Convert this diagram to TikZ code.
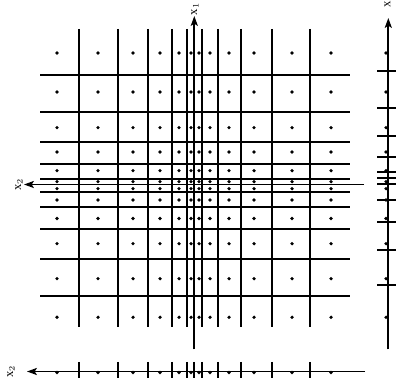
\documentclass[tikz,border=0pt]{standalone}
\usepackage{fontspec}
\setmainfont{Liberation Serif}
\usetikzlibrary{arrows.meta}
\begin{document}
\begin{tikzpicture}[x=0.25mm, y=-0.25mm,
        cut/.style={line width=1.2pt},
        axis/.style={line width=1.2pt, -{Stealth[length=7pt,width=5pt,inset=1.5pt]}},
        lab/.style={rotate=90, inner sep=0pt, font=\fontsize{9}{10}\selectfont}]
    \useasboundingbox (0,0) rectangle (398,388);

    % cells of the 2-d quantizer
    \foreach \u in {79,118,148,172,187,202,218,241,272,310}
        \draw[cut] (\u,29) -- (\u,327);
    \foreach \v in {74.7,111.7,141.7,163.7,179,191.7,207.3,228.7,258.7,295.7}
        \draw[cut] (40,\v) -- (350,\v);

    % reconstruction points
    \foreach \u in {57,98,133,160,179,191,199,210,229,254,292,331}
        \foreach \v in {53,92,127.7,152,170.7,181.7,188.7,200,218.5,243.7,278.7,317.3}
            \fill (\u,\v) circle (0.45mm);

    % axes of the plane
    \coordinate (xonebot) at (194.3,349.3);
    \coordinate (xonetop) at (194.3,16);
    \coordinate (xtworight) at (364,184.5);
    \coordinate (xtwoleft) at (24,184.5);
    \draw[axis] (xonebot) -- (xonetop);
    \draw[axis] (xtworight) -- (xtwoleft);
    \node[lab] (xonelab) at (195,9) {x$_1$};
    \node[lab] (xtwolab) at (19,184.5) {x$_2$};

    % scalar quantizer along x2
    \coordinate (hbright) at (365,371.5);
    \coordinate (hbleft) at (27,371.5);
    \draw[axis] (hbright) -- (hbleft);
    \foreach \u in {79,118,148,172,187,194.3,202,218,241,272,310}
        \draw[cut] (\u,362) -- (\u,378.5);
    \foreach \u in {57,98,133,160,179,191,199,210,229,254,292,331}
        \fill (\u,372.5) circle (0.45mm);
    \node[lab] (hblab) at (11,371.5) {x$_2$};

    % scalar quantizer along x
    \coordinate (vbbot) at (388.3,349.3);
    \coordinate (vbtop) at (388.3,18);
    \draw[axis] (vbbot) -- (vbtop);
    \foreach \v in {71,108,136,156.7,171.7,178.3,184.3,200,221.7,250,285}
        \draw[cut] (377,\v) -- (396,\v);
    \foreach \v in {53,92,127.7,152,170.7,181.7,188.7,200,218.5,243.7,278.7,317.3}
        \fill (386,\v) circle (0.45mm);
    \node[lab] (vblab) at (387.5,4.5) {x};

\end{tikzpicture}
\end{document}
